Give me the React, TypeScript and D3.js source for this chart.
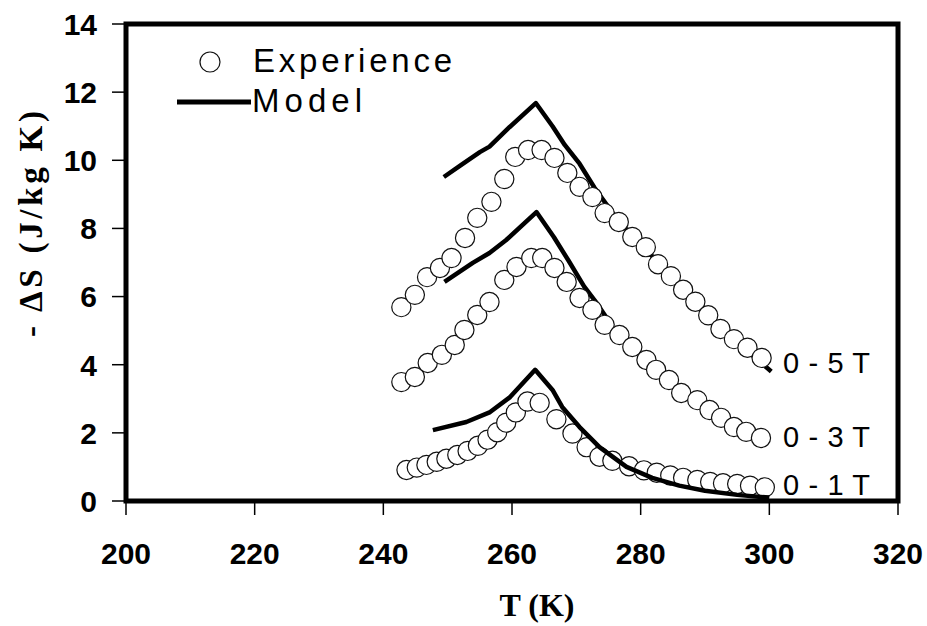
import React from "react";
import * as d3 from "d3";

// ---------- data ----------
const xTicks = [200, 220, 240, 260, 280, 300, 320];
const yTicks = [0, 2, 4, 6, 8, 10, 12, 14];

const exp5T_T = [242.8, 244.9, 246.8, 248.8, 250.6, 252.7, 254.6, 256.8, 258.8, 260.5, 262.5, 264.6, 266.6, 268.6, 270.5, 272.5, 274.4, 276.6, 278.7, 280.8, 282.7, 284.7, 286.6, 288.5, 290.5, 292.4, 294.5, 296.6, 298.8];
const exp5T_S = [5.69, 6.05, 6.57, 6.84, 7.13, 7.72, 8.31, 8.78, 9.45, 10.1, 10.3, 10.3, 10.07, 9.63, 9.22, 8.92, 8.45, 8.19, 7.75, 7.45, 6.95, 6.6, 6.2, 5.85, 5.45, 5.05, 4.75, 4.5, 4.2];

const exp3T_T = [242.8, 244.9, 246.9, 249.1, 251.1, 252.6, 254.6, 256.5, 258.8, 260.7, 263.0, 264.7, 266.6, 268.5, 270.5, 272.5, 274.4, 276.7, 278.7, 280.9, 282.4, 284.4, 286.3, 288.8, 290.7, 292.5, 294.5, 296.4, 298.7];
const exp3T_S = [3.49, 3.64, 4.05, 4.29, 4.58, 5.02, 5.46, 5.84, 6.49, 6.87, 7.13, 7.13, 6.84, 6.43, 5.96, 5.61, 5.17, 4.87, 4.52, 4.14, 3.85, 3.55, 3.17, 2.96, 2.67, 2.44, 2.17, 2.03, 1.85];

const exp1T_T = [243.6, 245.2, 246.7, 248.3, 249.8, 251.5, 253.1, 254.7, 256.2, 257.7, 259.1, 260.6, 262.4, 264.3, 266.9, 269.4, 271.6, 273.6, 275.6, 278.2, 280.5, 282.5, 284.6, 286.6, 288.8, 290.8, 292.8, 295.0, 297.0, 299.3];
const exp1T_S = [0.91, 0.98, 1.06, 1.15, 1.24, 1.35, 1.47, 1.62, 1.8, 2.02, 2.3, 2.6, 2.92, 2.88, 2.4, 1.98, 1.58, 1.3, 1.18, 1.02, 0.9, 0.83, 0.75, 0.68, 0.62, 0.56, 0.52, 0.5, 0.45, 0.4];

const mod5T_T = [249.4, 252.0, 255.0, 256.5, 259.6, 263.7, 266.3, 268.2, 270.5, 272.8, 276.6, 280.8, 284.7, 288.5, 292.4, 296.6, 300.3];
const mod5T_S = [9.51, 9.85, 10.24, 10.4, 10.97, 11.68, 11.0, 10.45, 9.9, 9.2, 8.2, 7.4, 6.55, 5.8, 5.0, 4.4, 3.8];

const mod3T_T = [249.5, 253.9, 256.5, 259.1, 263.8, 266.5, 268.8, 271.2, 273.2, 274.8];
const mod3T_S = [6.43, 6.99, 7.28, 7.66, 8.48, 7.75, 7.05, 6.3, 5.8, 5.35];

const mod1T_T = [247.7, 252.9, 256.6, 259.7, 263.6, 266.3, 267.8, 270.5, 273.6, 277.8, 281.8, 286.0, 290.0, 295.0, 300.0];
const mod1T_S = [2.08, 2.32, 2.61, 3.05, 3.85, 3.26, 2.76, 2.17, 1.58, 1.0, 0.68, 0.45, 0.3, 0.18, 0.1];

const fieldLabels = ["0 - 5 T", "0 - 3 T", "0 - 1 T"];
const legendLabels = ["Experience", "Model"];

// ---------- component ----------
const SANS = "'Liberation Sans', Arial, sans-serif";
const SERIF = "'Liberation Serif', 'Times New Roman', serif";

export default function App() {
  const W = 927;
  const H = 626;
  const x = d3.scaleLinear().domain([200, 320]).range([126, 898]);
  const y = d3.scaleLinear().domain([0, 14]).range([501, 24]);

  const line = d3
    .line<[number, number]>()
    .x((d) => x(d[0]))
    .y((d) => y(d[1]))
    .curve(d3.curveLinear);

  const zip = (a: number[], b: number[]) => a.map((v, i) => [v, b[i]] as [number, number]);

  const exps = [zip(exp5T_T, exp5T_S), zip(exp3T_T, exp3T_S), zip(exp1T_T, exp1T_S)];
  const m5 = zip(mod5T_T, mod5T_S);
  const m3 = zip(mod3T_T, mod3T_S);
  const m1 = zip(mod1T_T, mod1T_S);

  const [x0, x1] = x.range();
  const [yb, yt] = y.range();

  return (
    <svg
      width={W}
      height={H}
      style={{ position: "absolute", left: 0, top: 0, background: "#fff" }}
    >
      <rect x={0} y={0} width={W} height={H} fill="#fff" />

      {/* model lines under the symbols */}
      <path d={line(m5) || ""} fill="none" stroke="#000" strokeWidth={4.5} strokeLinejoin="round" />
      <path d={line(m3) || ""} fill="none" stroke="#000" strokeWidth={4.5} strokeLinejoin="round" />

      {/* experiment symbols */}
      {exps.map((s, si) =>
        s.map((d, i) => (
          <circle
            key={`c${si}-${i}`}
            cx={x(d[0])}
            cy={y(d[1])}
            r={9.6}
            fill="#fff"
            stroke="#111"
            strokeWidth={1.2}
          />
        ))
      )}

      {/* 0-1 T model on top */}
      <path d={line(m1) || ""} fill="none" stroke="#000" strokeWidth={4.5} strokeLinejoin="round" />

      {/* frame */}
      <rect x={x0} y={yt} width={x1 - x0} height={yb - yt} fill="none" stroke="#000" strokeWidth={5} />

      {/* y ticks */}
      {yTicks.map((t) => (
        <g key={`yt${t}`}>
          <line x1={x0 - 14} x2={x0} y1={y(t)} y2={y(t)} stroke="#000" strokeWidth={1.5} />
          <text
            x={97}
            y={y(t)}
            dy="0.36em"
            textAnchor="end"
            fontFamily={SANS}
            fontWeight="bold"
            fontSize={30}
          >
            {t}
          </text>
        </g>
      ))}

      {/* x ticks */}
      {xTicks.map((t) => (
        <g key={`xt${t}`}>
          <line x1={x(t)} x2={x(t)} y1={yb} y2={yb + 14} stroke="#000" strokeWidth={1.5} />
          <text
            x={x(t)}
            y={553}
            dy="0.36em"
            textAnchor="middle"
            fontFamily={SANS}
            fontWeight="bold"
            fontSize={30}
          >
            {t}
          </text>
        </g>
      ))}

      {/* axis titles */}
      <text x={537} y={616} textAnchor="middle" fontFamily={SERIF} fontWeight="bold" fontSize={32}>
        T (K)
      </text>
      <text
        transform="translate(42,224) rotate(-90)"
        textAnchor="middle"
        fontFamily={SERIF}
        fontWeight="bold"
        fontSize={33}
        textLength={226}
        lengthAdjust="spacing"
      >
        - ΔS (J/kg K)
      </text>

      {/* legend */}
      <circle cx={210} cy={62} r={10} fill="#fff" stroke="#111" strokeWidth={1.2} />
      <text x={253} y={72} fontFamily={SANS} fontSize={33} textLength={199} lengthAdjust="spacing">
        {legendLabels[0]}
      </text>
      <line x1={177} x2={251} y1={102} y2={102} stroke="#000" strokeWidth={5} />
      <text x={252} y={112} fontFamily={SANS} fontSize={33} textLength={110} lengthAdjust="spacing">
        {legendLabels[1]}
      </text>

      {/* field labels */}
      {fieldLabels.map((lab, i) => (
        <text
          key={lab}
          x={783}
          y={[373, 447, 495][i]}
          fontFamily={SANS}
          fontSize={29}
          textLength={87}
          lengthAdjust="spacing"
        >
          {lab}
        </text>
      ))}
    </svg>
  );
}
